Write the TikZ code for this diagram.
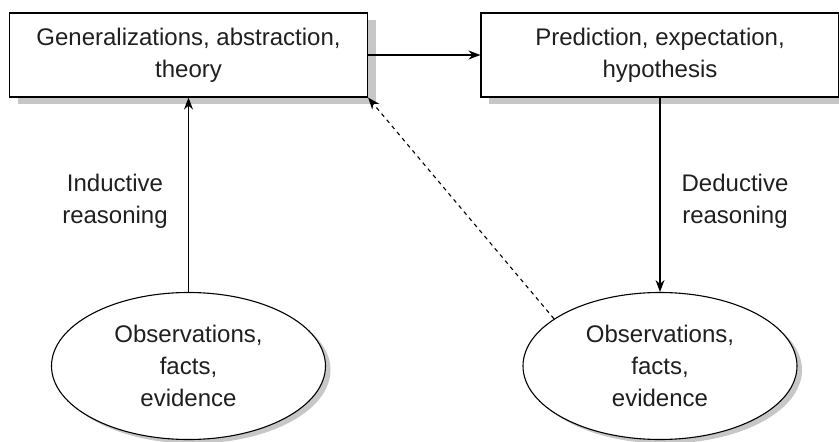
\documentclass[tikz,border=0pt]{standalone}
\usepackage{fontspec}
\setmainfont{Liberation Sans}
\usepackage{tikz}
\usetikzlibrary{arrows.meta,shapes.geometric,shadows}

\begin{document}
\begin{tikzpicture}[
    x=1pt,y=-1pt,
    line width=1.1pt,
    every node/.style={align=center,text=black!88,font=\fontsize{24}{32}\selectfont},
    box/.style={draw,fill=white,rectangle,minimum width=358pt,minimum height=84pt,
      drop shadow={shadow xshift=8pt,shadow yshift=-7pt,fill=black!22,opacity=1}},
    obs/.style={draw,fill=white,ellipse,minimum width=274pt,minimum height=147pt,inner sep=0pt,
      drop shadow={shadow xshift=5pt,shadow yshift=-4pt,fill=black!22,opacity=1}},
    lbl/.style={inner sep=0pt},
    >={Stealth[length=12pt,width=9pt]}
  ]
    \useasboundingbox (0,0) rectangle (839,442);

    \node[box] (gen)  at (188.5,55) {Generalizations, abstraction,\\theory};
    \node[box] (pred) at (660,55)   {Prediction, expectation,\\hypothesis};
    \node[obs] (obsL) at (188.5,366) {Observations,\\facts,\\evidence};
    \node[obs] (obsR) at (660,366)   {Observations,\\facts,\\evidence};

    \node[lbl] (ind) at (115,201) {Inductive\\reasoning};
    \node[lbl] (ded) at (735,201) {Deductive\\reasoning};

    \draw[->] (gen) -- (pred);
    \draw[->] (obsL) -- (gen);
    \draw[->] (pred) -- (obsR);
    \draw[->,dash pattern=on 4pt off 4pt] (obsR.156) -- (gen.south east);
  \end{tikzpicture}
\end{document}
